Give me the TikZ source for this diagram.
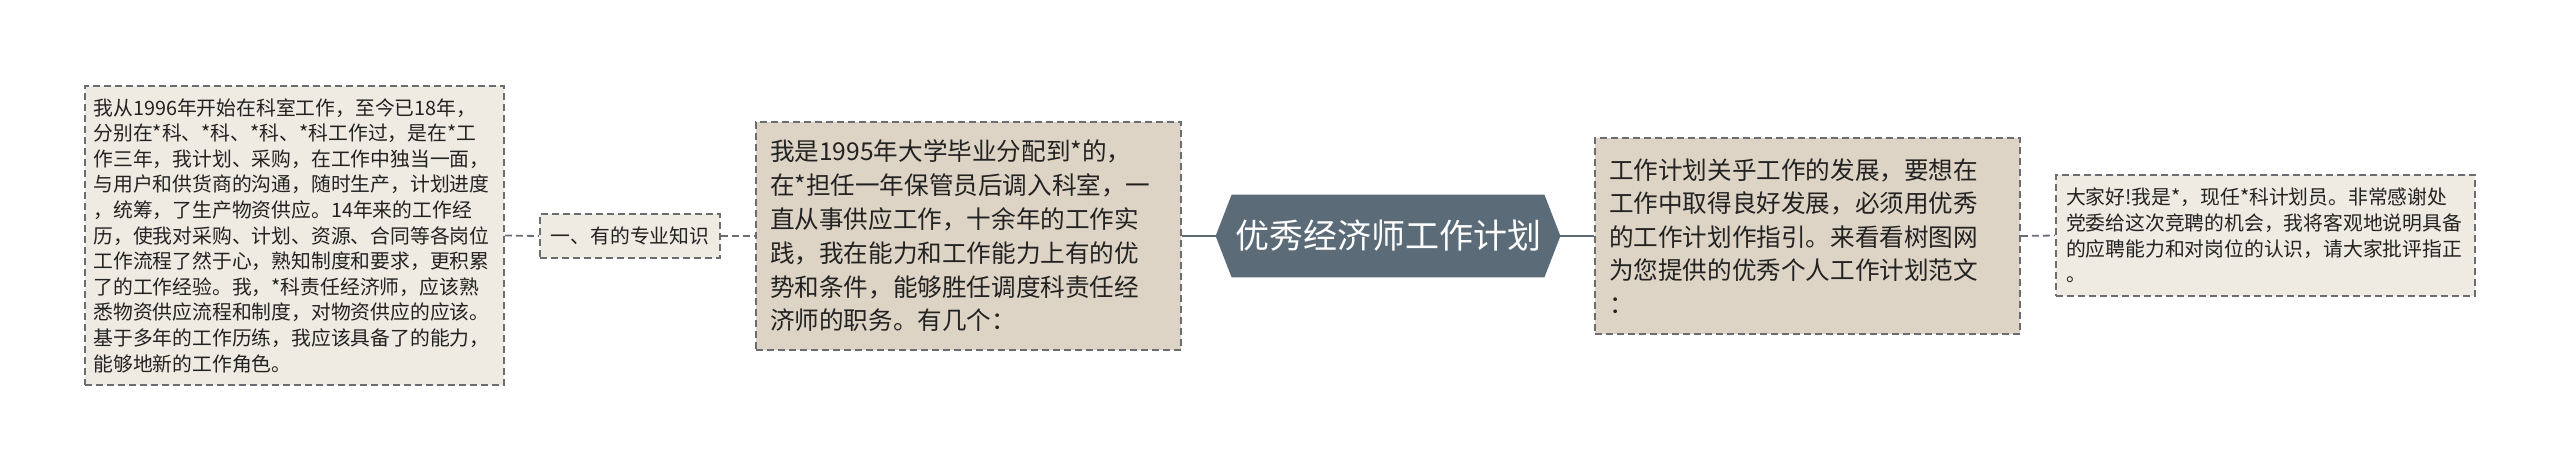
\documentclass[tikz,border=0pt]{standalone}
\usepackage{fontspec}
\setmainfont{Noto Sans CJK SC}
\usetikzlibrary{backgrounds}
\definecolor{leafpale}{HTML}{EFEBE3}
\definecolor{leaftan}{HTML}{DDD4C5}
\definecolor{rootslate}{HTML}{5B6B77}
\definecolor{edgegray}{HTML}{6A6E72}
\definecolor{inkdark}{HTML}{222222}
\begin{document}
\begin{tikzpicture}[x=0.5pt,y=-0.5pt,
		dashbox/.style={draw=edgegray,line width=0.9pt,dash pattern=on 3.5pt off 2pt,text=inkdark,align=left,inner ysep=0pt},
		paleleaf/.style={dashbox,fill=leafpale,font=\fontsize{9.9pt}{12.8pt}\selectfont},
		tanleaf/.style={dashbox,fill=leaftan,font=\fontsize{12.3pt}{16.9pt}\selectfont},
		dashlink/.style={draw=edgegray,line width=0.9pt,dash pattern=on 3.5pt off 2pt},
		rootlink/.style={draw=rootslate,line width=1.2pt}]
			\useasboundingbox (0,0) rectangle (2560,472);
			%\draw [red] (0,0) rectangle (2560,472);
			\node [text=white,font=\fontsize{17pt}{20pt}\selectfont,minimum width=172pt,minimum height=41pt,inner sep=0pt] (root) at (1388,236) {优秀经济师工作计划};
			\begin{scope}[on background layer]
				\fill [rootslate] (root.west) -- ([xshift=8pt]root.north west) -- ([xshift=-8pt]root.north east) -- (root.east) -- ([xshift=-8pt]root.south east) -- ([xshift=8pt]root.south west) -- cycle;
			\end{scope}
			% left side
			\node [tanleaf,text width=198.5pt,inner xsep=7pt,minimum height=114pt] (intro) at (968.5,236) {我是1995年大学毕业分配到*的，\\在*担任一年保管员后调入科室，一\\直从事供应工作，十余年的工作实\\践，我在能力和工作能力上有的优\\势和条件，能够胜任调度科责任经\\济师的职务。有几个：};
			\node [paleleaf,minimum width=90pt,minimum height=22pt,inner xsep=0pt,align=center] (skill) at (630,236) {一、有的专业知识};
			\node [paleleaf,text width=201pt,inner xsep=4.25pt,minimum height=149.5pt] (career) at (294.5,235.5) {我从1996年开始在科室工作，至今已18年，\\分别在*科、*科、*科、*科工作过，是在*工\\作三年，我计划、采购，在工作中独当一面，\\与用户和供货商的沟通，随时生产，计划进度\\，统筹，了生产物资供应。14年来的工作经\\历，使我对采购、计划、资源、合同等各岗位\\工作流程了然于心，熟知制度和要求，更积累\\了的工作经验。我，*科责任经济师，应该熟\\悉物资供应流程和制度，对物资供应的应该。\\基于多年的工作历练，我应该具备了的能力，\\能够地新的工作角色。};
			% right side
			\node [tanleaf,text width=198.5pt,inner xsep=7pt,minimum height=98pt,font=\fontsize{12.3pt}{16.7pt}\selectfont] (guide) at (1807.5,236) {工作计划关乎工作的发展，要想在\\工作中取得良好发展，必须用优秀\\的工作计划作指引。来看看树图网\\为您提供的优秀个人工作计划范文\\：};
			\node [paleleaf,text width=199.5pt,inner xsep=5pt,minimum height=60.5pt] (greet) at (2265.5,235.5) {大家好!我是*，现任*科计划员。非常感谢处\\党委给这次竞聘的机会，我将客观地说明具备\\的应聘能力和对岗位的认识，请大家批评指正\\。};
			\draw [rootlink] (intro.east) to (root.west);
			\draw [rootlink] (root.east) to (guide.west);
			\draw [dashlink] (skill.east) to (intro.west);
			\draw [dashlink] (career.east) to (skill.west);
			\draw [dashlink] (guide.east) to (greet.west);
		\end{tikzpicture}
\end{document}
